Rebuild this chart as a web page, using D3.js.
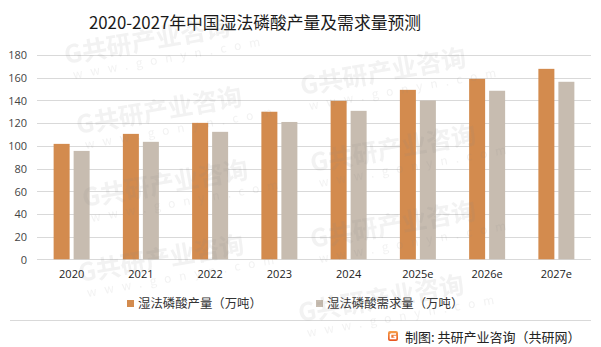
<!DOCTYPE html>
<html>
<head>
<meta charset="utf-8">
<script src="https://cdn.jsdelivr.net/npm/d3@7"></script>
<style>
  html, body { margin: 0; padding: 0; background: #fff; }
  svg { display: block; font-family: "Noto Sans CJK SC", "Noto Sans", sans-serif; }
</style>
</head>
<body>
<svg id="chart" width="601" height="347"></svg>
<script>
// Wet-process phosphoric acid in China: output and demand (10k tonnes)
const categories = ["2020", "2021", "2022", "2023", "2024", "2025e", "2026e", "2027e"];
const outputValues = [101.7, 110.5, 120.2, 130, 139.6, 149.3, 159, 167.8];
const demandValues = [95.5, 103.5, 112.3, 121, 130.8, 140, 148.5, 156.4];
const yTicks = [0, 20, 40, 60, 80, 100, 120, 140, 160, 180];
const seriesNames = ["湿法磷酸产量（万吨）", "湿法磷酸需求量（万吨）"];
const seriesColors = ["#D38B4E", "#C7BCB0"];
const titleText = "2020-2027年中国湿法磷酸产量及需求量预测";
const sourceText = "制图: 共研产业咨询（共研网）";
const brandMark = "G共研产业咨询";
const brandSite = "www.gonyn.com";

const svg = d3.select("#chart");
const W = 601, H = 347;
const margin = { left: 37, right: 10 };

const x = d3.scaleBand()
  .domain(categories)
  .range([margin.left, W - margin.right])
  .paddingInner(0).paddingOuter(0);

const y = d3.scaleLinear()
  .domain([0, 180])
  .range([259.3, 55]);

// Title
svg.append("text")
  .attr("x", 255).attr("y", 29)
  .attr("text-anchor", "middle")
  .attr("font-size", 16.8)
  .attr("fill", "#1a1a1a")
  .text(titleText);

// Horizontal gridlines
svg.append("g")
  .selectAll("line")
  .data(yTicks)
  .join("line")
  .attr("x1", margin.left).attr("x2", W - margin.right)
  .attr("y1", d => Math.round(y(d)) + 0.5).attr("y2", d => Math.round(y(d)) + 0.5)
  .attr("stroke", "#D9D9D9").attr("stroke-width", 1);

// Y axis labels
const yAxis = d3.axisLeft(y).tickValues(yTicks).tickSize(0).tickPadding(0);
const gy = svg.append("g").attr("transform", "translate(27,0)").call(yAxis);
gy.select(".domain").remove();
gy.selectAll("text")
  .attr("font-size", 11).attr("fill", "#444")
  .attr("font-family", "'Open Sans', 'Noto Sans', sans-serif")
  .attr("dy", "0.35em");

// X axis labels
const xAxis = d3.axisBottom(x).tickSize(0).tickPadding(0);
const gx = svg.append("g").attr("transform", "translate(0,270)").call(xAxis);
gx.select(".domain").remove();
gx.selectAll("text")
  .attr("font-size", 11).attr("fill", "#222")
  .attr("font-family", "'Open Sans', 'Noto Sans', sans-serif")
  .attr("dy", "0.71em");

// Bars
const barW = 16, gap = 4;
const series = [outputValues, demandValues];
series.forEach((vals, si) => {
  svg.append("g")
    .selectAll("rect")
    .data(categories.map((c, i) => ({ c, v: vals[i] })))
    .join("rect")
    .attr("x", d => x(d.c) + x.bandwidth() / 2 + (si === 0 ? -(barW + gap / 2) : gap / 2))
    .attr("y", d => y(d.v))
    .attr("width", barW)
    .attr("height", d => y(0) - y(d.v))
    .attr("fill", seriesColors[si]);
});

// Legend
const legendPos = [127, 316];
seriesNames.forEach((name, i) => {
  const g = svg.append("g").attr("transform", `translate(${legendPos[i]},300)`);
  g.append("rect").attr("x", 0).attr("y", 0).attr("width", 7).attr("height", 7)
    .attr("fill", seriesColors[i]);
  g.append("text").attr("x", 11).attr("y", 8)
    .attr("font-size", 12.4).attr("fill", "#333")
    .text(name);
});

// Footer separator
svg.append("line")
  .attr("x1", 10).attr("x2", 591)
  .attr("y1", 320.5).attr("y2", 320.5)
  .attr("stroke", "#D9D9D9").attr("stroke-width", 1);

// Source logo
const grad = svg.append("defs").append("linearGradient")
  .attr("id", "logoGrad").attr("x1", 0).attr("y1", 0).attr("x2", 0).attr("y2", 1);
grad.append("stop").attr("offset", 0).attr("stop-color", "#F6A04A");
grad.append("stop").attr("offset", 1).attr("stop-color", "#E8541E");
const logo = svg.append("g").attr("transform", "translate(388,331)");
logo.append("rect").attr("width", 10).attr("height", 10).attr("rx", 2).attr("fill", "url(#logoGrad)");
logo.append("path")
  .attr("d", "M2.5,3 H8 M2.5,3 V7.5 H7.5 V5.5 H5.5")
  .attr("stroke", "#fff").attr("stroke-width", 1.6).attr("fill", "none");

svg.append("text")
  .attr("x", 405).attr("y", 341.5)
  .attr("font-size", 13).attr("fill", "#222")
  .text(sourceText);

// Faint brand watermark laid over the chart (two columns of stamps)
const wmSpots = [[66, 64], [78, 134], [84, 207], [80, 282], [302, 95], [312, 172], [312, 248], [300, 322]];
const wm = svg.append("g").attr("fill", "#8a8a8a").attr("opacity", 0.11);
wmSpots.forEach(([px, py]) => {
  const g = wm.append("g").attr("transform", `translate(${px},${py}) rotate(-10)`);
  g.append("text").attr("font-size", 25).attr("font-weight", 700).text(brandMark);
  g.append("text").attr("x", 5).attr("y", 16).attr("font-size", 12)
    .attr("letter-spacing", 8).text(brandSite);
});
</script>
</body>
</html>
